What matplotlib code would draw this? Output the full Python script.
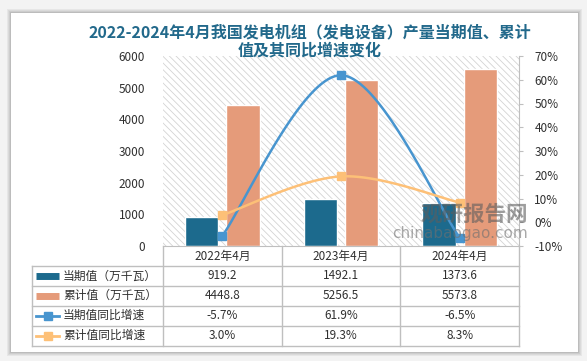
import numpy as np
import matplotlib
matplotlib.use("Agg")
import matplotlib.pyplot as plt
from matplotlib.patches import Rectangle

plt.rcParams['font.family'] = ['Noto Sans CJK SC', 'DejaVu Sans']
plt.rcParams['hatch.linewidth'] = 0.6

# --- data ---
categories = ["2022年4月", "2023年4月", "2024年4月"]
current_vals = [919.2, 1492.1, 1373.6]       # 当期值（万千瓦）
cumulative_vals = [4448.8, 5256.5, 5573.8]   # 累计值（万千瓦）
current_yoy = [-5.7, 61.9, -6.5]             # 当期值同比增速 %
cumulative_yoy = [3.0, 19.3, 8.3]            # 累计值同比增速 %

series_names = ["当期值（万千瓦）", "累计值（万千瓦）", "当期值同比增速", "累计值同比增速"]
title_lines = ["2022-2024年4月我国发电机组（发电设备）产量当期值、累计", "值及其同比增速变化"]

left_ticks = [0, 1000, 2000, 3000, 4000, 5000, 6000]
right_ticks = [-10, 0, 10, 20, 30, 40, 50, 60, 70]

# --- colours ---
C_DARK = "#1c6a8d"
C_SALMON = "#e59b7a"
C_BLUE = "#4895cf"
C_ORANGE = "#fdc077"
C_TITLE = "#22698b"
C_GRID = "#bfbfbf"
C_TEXT = "#303030"

W, H = 587, 361


def px_rect(x0, y0, x1, y1):
    # pixel box (top-left origin) -> figure fraction rect
    return [x0 / W, (H - y1) / H, (x1 - x0) / W, (y1 - y0) / H]


def smooth(xs, ys, n=40):
    # Excel-like smoothed line (cubic Bezier through the points)
    pts = np.column_stack([xs, ys]).astype(float)
    out = []
    for i in range(len(pts) - 1):
        p0 = pts[max(i - 1, 0)]
        p1 = pts[i]
        p2 = pts[i + 1]
        p3 = pts[min(i + 2, len(pts) - 1)]
        c1 = p1 + (p2 - p0) / 6
        c2 = p2 - (p3 - p1) / 6
        t = np.linspace(0, 1, n)[:, None]
        seg = (1 - t) ** 3 * p1 + 3 * (1 - t) ** 2 * t * c1 + 3 * (1 - t) * t ** 2 * c2 + t ** 3 * p2
        out.append(seg if i == 0 else seg[1:])
    return np.vstack(out)


fig = plt.figure(figsize=(W / 100, H / 100), dpi=100)
fig.patch.set_facecolor("#f3f3f3")

# card with a soft shadow
for k, a in enumerate([0.05, 0.05, 0.06, 0.08]):
    d = 4 - k
    r = px_rect(11 - d, 13 - d, 578 + d, 352 + d)
    fig.patches.append(Rectangle((r[0], r[1]), r[2], r[3], transform=fig.transFigure,
                                 facecolor="black", alpha=a, lw=0, zorder=-3))
r = px_rect(11, 13, 578, 352)
fig.patches.append(Rectangle((r[0], r[1]), r[2], r[3], transform=fig.transFigure,
                             facecolor="white", lw=0, zorder=-2))

x = np.arange(len(categories))
bw = 0.28

ax = fig.add_axes(px_rect(163, 56, 519, 246))
ax.set_facecolor("none")
ax.add_patch(Rectangle((0, 0), 1, 1, transform=ax.transAxes, facecolor="white",
                       edgecolor="#d3d3d3", hatch="\\\\\\\\\\", lw=0, zorder=0))
ax.bar(x - 0.175, current_vals, bw, color=C_DARK, edgecolor="white", lw=1, zorder=2)
ax.bar(x + 0.175, cumulative_vals, bw, color=C_SALMON, edgecolor="white", lw=1, zorder=2)
ax.set_xlim(-0.5, 2.5)
ax.set_ylim(0, 6000)
ax.set_yticks(left_ticks)
ax.set_yticklabels([str(v) for v in left_ticks], fontsize=8.5, color=C_TEXT)
ax.tick_params(axis="y", length=0, pad=13)
ax.set_xticks([])
for s in ["left", "top", "right"]:
    ax.spines[s].set_visible(False)
ax.spines["bottom"].set_color(C_GRID)

ax2 = ax.twinx()
ax2.set_facecolor("none")
ax2.set_ylim(-10, 70)
ax2.set_yticks(right_ticks)
ax2.set_yticklabels([f"{v}%" for v in right_ticks], fontsize=8.5, color=C_TEXT)
ax2.tick_params(axis="y", length=3, color=C_GRID, pad=8)
for s in ["left", "top", "bottom"]:
    ax2.spines[s].set_visible(False)
ax2.spines["right"].set_color(C_GRID)

for vals, col in [(current_yoy, C_BLUE), (cumulative_yoy, C_ORANGE)]:
    curve = smooth(x, vals)
    ax2.plot(curve[:, 0], curve[:, 1], color=col, lw=1.8, zorder=4, clip_on=False)
    ax2.plot(x, vals, ls="none", marker="s", ms=6, color=col, zorder=5, clip_on=False)

# watermark
ax2.text(1.025, 0.165, "观研报告网", transform=ax.transAxes, ha="right", va="center",
         fontsize=15.5, fontweight="bold", color="#5e5e5e", alpha=0.6, zorder=6)
ax2.text(1.025, 0.068, "chinabaogao.com", transform=ax.transAxes, ha="right", va="center",
         fontsize=11, color="#707070", alpha=0.6, zorder=6, family="DejaVu Sans")

# --- data table under the plot ---
x_left = -0.5 - (163 - 32) / ((519 - 163) / 3)
tab = fig.add_axes(px_rect(32, 246, 519, 345.5))
tab.set_xlim(x_left, 2.5)
tab.set_ylim(5, 0)
tab.axis("off")
lkw = dict(color=C_GRID, lw=1, clip_on=False)
for rr in range(1, 6):
    tab.plot([x_left, 2.5], [rr, rr], **lkw)
for c in [-0.5, 0.5, 1.5, 2.5]:
    tab.plot([c, c], [0, 5], **lkw)
tab.plot([x_left, x_left], [1, 5], **lkw)

for i, cat in enumerate(categories):
    tab.text(i, 0.5, cat, ha="center", va="center", fontsize=8.5, color=C_TEXT)

rows = [
    [f"{v:.1f}" for v in current_vals],
    [f"{v:.1f}" for v in cumulative_vals],
    [f"{v:.1f}%" for v in current_yoy],
    [f"{v:.1f}%" for v in cumulative_yoy],
]
for rr, row in enumerate(rows, start=1):
    for i, txt in enumerate(row):
        tab.text(i, rr + 0.5, txt, ha="center", va="center", fontsize=8.5, color=C_TEXT)

ppu = (519 - 32) / (2.5 - x_left)
k0 = x_left + 4 / ppu
k1 = x_left + 27 / ppu
km = (k0 + k1) / 2
tab.plot([k0, k1], [1.5, 1.5], color=C_DARK, lw=5, solid_capstyle="butt")
tab.plot([k0, k1], [2.5, 2.5], color=C_SALMON, lw=5, solid_capstyle="butt")
tab.plot([k0, k1], [3.5, 3.5], color=C_BLUE, lw=2)
tab.plot([km], [3.5], marker="s", ms=6, color=C_BLUE)
tab.plot([k0, k1], [4.5, 4.5], color=C_ORANGE, lw=2)
tab.plot([km], [4.5], marker="s", ms=6, color=C_ORANGE)
for rr, name in enumerate(series_names, start=1):
    tab.text(x_left + 31 / ppu, rr + 0.5, name, ha="left", va="center", fontsize=8.5, color=C_TEXT)

for line, ypx in zip(title_lines, [32, 51]):
    fig.text(310 / W, 1 - ypx / H, line, ha="center", va="center", fontsize=11.5,
             fontweight="bold", color=C_TITLE)

fig.savefig("out.png", dpi=100, facecolor=fig.get_facecolor())
